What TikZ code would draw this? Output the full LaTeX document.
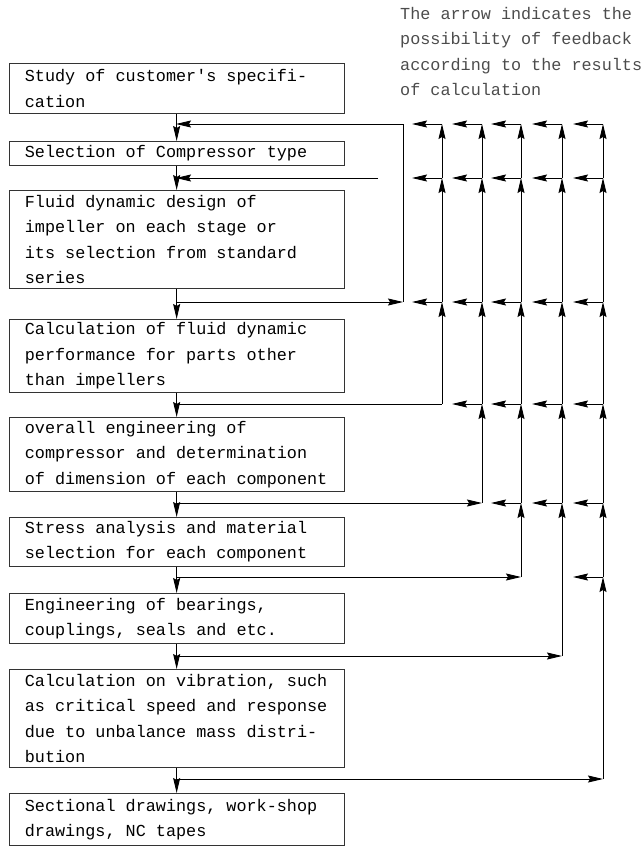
\documentclass[tikz,border=0pt]{standalone}
\usepackage{fontspec}
\setmainfont{Liberation Mono}
\usetikzlibrary{arrows.meta}

\tikzset{
  box/.style={draw=black!80, line width=0.8pt, anchor=north west, text width=303.5pt,
    inner xsep=15.5pt, inner ysep=1pt, align=flush left, font=\fontsize{16.8}{25.3}\selectfont},
  wire/.style={line width=0.9pt},
  flow/.style={wire, arrows={-Stealth[length=15pt, width=7pt, inset=2pt]}},
  note/.style={anchor=north west, align=left, inner sep=0pt, text=black!70,
    font=\fontsize{16.8}{25.5}\selectfont}
}

\begin{document}
\begin{tikzpicture}[x=1pt, y=-1pt]
			%%%%% START %%%%%
			\useasboundingbox (0,0) rectangle (644,846);
			
			\node[note] (hint) at (400,7) {The arrow indicates the\\possibility of feedback\\according to the results\\of calculation};
			
			\node[box, minimum height=50pt] (spec) at (9,63) {Study of customer\textquotesingle s specifi-\\cation};
			\node[box, minimum height=24pt] (type) at (9,141) {Selection of Compressor type};
			\node[box, minimum height=98pt] (impeller) at (9,190) {Fluid dynamic design of\\impeller on each stage or\\its selection from standard\\series};
			\node[box, minimum height=73pt] (parts) at (9,319) {Calculation of fluid dynamic\\performance for parts other\\than impellers};
			\node[box, minimum height=74pt] (overall) at (9,417) {overall engineering of\\compressor and determination\\of dimension of each component};
			\node[box, minimum height=49pt] (stress) at (9,517) {Stress analysis and material\\selection for each component};
			\node[box, minimum height=50pt] (bearing) at (9,593) {Engineering of bearings,\\couplings, seals and etc.};
			\node[box, minimum height=98pt] (vib) at (9,669) {Calculation on vibration, such\\as critical speed and response\\due to unbalance mass distri-\\bution};
			\node[box, minimum height=52pt] (draw) at (9,793) {Sectional drawings, work-shop\\drawings, NC tapes};
			
			% main flow
			\draw[flow] (spec.south) -- (type.north);
			\draw[flow] (type.south) -- (impeller.north);
			\draw[flow] (impeller.south) -- (parts.north);
			\draw[flow] (parts.south) -- (overall.north);
			\draw[flow] (overall.south) -- (stress.north);
			\draw[flow] (stress.south) -- (bearing.north);
			\draw[flow] (bearing.south) -- (vib.north);
			\draw[flow] (vib.south) -- (draw.north);
			
			% levels on the main line, feedback columns
			\coordinate (l1) at (176,124);
			\coordinate (l2) at (176,178);
			\coordinate (l3) at (176,302);
			\coordinate (l4) at (176,404);
			\coordinate (l5) at (176,503);
			\coordinate (l6) at (176,577);
			\coordinate (l7) at (176,656);
			\coordinate (l8) at (176,779);
			\coordinate (l2end) at (378,178);
			
			\coordinate (cA) at (403,0);
			\coordinate (cB) at (442,0);
			\coordinate (cC) at (482,0);
			\coordinate (cD) at (521,0);
			\coordinate (cE) at (562,0);
			\coordinate (cF) at (603,0);
			
			\draw[flow] (l2end) -- (l2);
			
			\draw[flow] (l3) -- (cA|-l3);
			\draw[flow] (cA|-l3) -- (cA|-l1) -- (l1);
			
			\draw[wire] (l4) -- (cB|-l4);
			\draw[flow] (l5) -- (cC|-l5);
			\draw[flow] (l6) -- (cD|-l6);
			\draw[flow] (l7) -- (cE|-l7);
			\draw[flow] (l8) -- (cF|-l8);
			
			% upward segments
			\draw[flow] (cB|-l4) -- (cB|-l3);
			\draw[flow] (cC|-l5) -- (cC|-l4);
			\draw[flow] (cD|-l6) -- (cD|-l5);
			\draw[flow] (cE|-l7) -- (cE|-l5);
			\draw[flow] (cF|-l8) -- (cF|-l6);
			\draw[flow] (cF|-l6) -- (cF|-l5);
			\foreach \c in {cB,cC,cD,cE,cF}{
			  \draw[flow] (\c|-l3) -- (\c|-l2);
			  \draw[flow] (\c|-l2) -- (\c|-l1);
			}
			\foreach \c in {cC,cD,cE,cF}
			  \draw[flow] (\c|-l4) -- (\c|-l3);
			\foreach \c in {cD,cE,cF}
			  \draw[flow] (\c|-l5) -- (\c|-l4);
			
			% short stubs pointing back
			\foreach \c in {cB,cC,cD,cE,cF}
			  \foreach \l in {l1,l2,l3}
			    \draw[flow] (\c|-\l) -- ++(-30,0);
			\foreach \c in {cC,cD,cE,cF}
			  \draw[flow] (\c|-l4) -- ++(-30,0);
			\foreach \c in {cD,cE,cF}
			  \draw[flow] (\c|-l5) -- ++(-30,0);
			\draw[flow] (cF|-l6) -- ++(-30,0);
			
			%%%%% END %%%%%
		\end{tikzpicture}
\end{document}
